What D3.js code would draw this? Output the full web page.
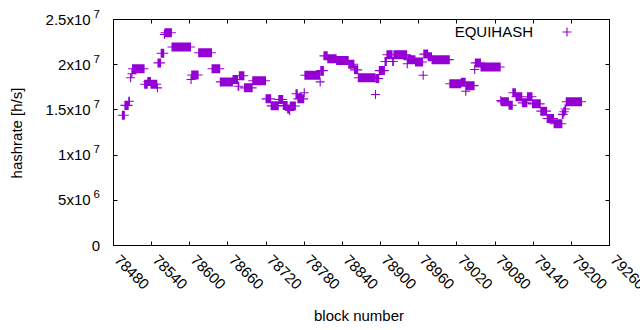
<!DOCTYPE html>
<html>
<head>
<meta charset="utf-8">
<script src="https://cdn.jsdelivr.net/npm/d3@7"></script>
<style>
  body { margin: 0; background: #fff; }
  text { font-family: "Liberation Sans", Arial, sans-serif; fill: #000; }
</style>
</head>
<body>
<svg id="chart" width="640" height="330"></svg>
<script>
// hashrate plateaus: first block, last block, value in 1e6 h/s
const runStart = [78494, 78498, 78504, 78507, 78509, 78510, 78529, 78534, 78539, 78549,
  78550, 78555, 78560, 78561, 78572, 78602, 78603, 78614, 78635, 78648,
  78668, 78676, 78678, 78686, 78699, 78720, 78728, 78740, 78747, 78754,
  78757, 78758, 78767, 78770, 78780, 78781, 78805, 78806, 78811, 78817,
  78831, 78850, 78859, 78865, 78892, 78893, 78898, 78907, 78910, 78919,
  78921, 78942, 78943, 78955, 78967, 78968, 78975, 78981, 79009, 79027,
  79034, 79035, 79048, 79049, 79058, 79089, 79090, 79102, 79108, 79113,
  79123, 79131, 79139, 79152, 79162, 79173, 79186, 79188, 79190, 79192];
const runEnd = [78497, 78503, 78505, 78507, 78509, 78528, 78533, 78538, 78548, 78549,
  78554, 78559, 78560, 78571, 78601, 78602, 78613, 78634, 78647, 78667,
  78675, 78677, 78685, 78698, 78719, 78727, 78739, 78746, 78753, 78756,
  78757, 78766, 78769, 78779, 78780, 78804, 78805, 78810, 78816, 78830,
  78849, 78858, 78864, 78891, 78892, 78897, 78906, 78909, 78918, 78920,
  78941, 78942, 78954, 78966, 78967, 78974, 78980, 79008, 79026, 79033,
  79034, 79047, 79048, 79057, 79088, 79089, 79101, 79107, 79112, 79122,
  79130, 79138, 79151, 79161, 79172, 79185, 79187, 79189, 79191, 79216];
const runValue = [14.4, 15.5, 15.95, 18.55, 19.0, 19.56, 17.84, 18.14, 17.84, 17.44,
  20.2, 21.27, 23.34, 23.53, 21.96, 18.36, 18.86, 21.32, 19.55, 18.1,
  18.36, 17.62, 18.77, 17.44, 18.23, 16.22, 15.45, 16.15, 15.49, 15.1,
  14.93, 15.43, 16.78, 16.22, 16.89, 18.84, 18.1, 19.35, 20.98, 20.65,
  20.46, 20.05, 19.43, 18.55, 16.7, 18.47, 19.35, 20.35, 21.1, 20.35,
  21.1, 20.1, 20.54, 20.3, 18.84, 21.17, 20.87, 20.56, 17.9, 18.05,
  17.07, 17.68, 19.47, 20.2, 19.75, 16.04, 15.9, 15.52, 16.89, 16.45,
  15.78, 16.45, 15.67, 14.86, 14.05, 13.46, 14.5, 14.8, 15.1, 15.9];

const xTicks = [78480, 78540, 78600, 78660, 78720, 78780, 78840, 78900,
  78960, 79020, 79080, 79140, 79200, 79260];
const yTicks = [0, 5e6, 1e7, 1.5e7, 2e7, 2.5e7];
const seriesName = "EQUIHASH";

// one point per block
const points = [];
runStart.forEach((s, i) => {
  for (let b = s; b <= runEnd[i]; b++) points.push({ block: b, rate: runValue[i] * 1e6 });
});

const plot = { left: 113.5, right: 609.5, top: 19.5, bottom: 245.5 };
const color = "#9400d3";
const svg = d3.select("#chart");

const x = d3.scaleLinear().domain([78480, 79260]).range([plot.left, plot.right]);
const y = d3.scaleLinear().domain([0, 2.5e7]).range([plot.bottom, plot.top]);

function plus(cx, cy, r) {
  return `M${cx - r},${cy}h${2 * r}M${cx},${cy - r}v${2 * r}`;
}

// points
svg.append("path")
  .attr("d", points.map(d => plus(x(d.block), y(d.rate), 4.5)).join(""))
  .attr("fill", "none")
  .attr("stroke", color)
  .attr("stroke-width", 1.1);

// border
svg.append("rect")
  .attr("x", plot.left).attr("y", plot.top)
  .attr("width", plot.right - plot.left).attr("height", plot.bottom - plot.top)
  .attr("fill", "none").attr("stroke", "#000").attr("stroke-width", 1);

// ticks (inward, mirrored)
const tl = 4;
const tickG = svg.append("g").attr("stroke", "#000").attr("stroke-width", 1);
xTicks.forEach(t => {
  const px = Math.round(x(t) - 0.5) + 0.5;
  tickG.append("line").attr("x1", px).attr("x2", px).attr("y1", plot.bottom).attr("y2", plot.bottom - tl);
  tickG.append("line").attr("x1", px).attr("x2", px).attr("y1", plot.top).attr("y2", plot.top + tl);
});
yTicks.forEach(t => {
  const py = Math.round(y(t) - 0.5) + 0.5;
  tickG.append("line").attr("x1", plot.left).attr("x2", plot.left + tl).attr("y1", py).attr("y2", py);
  tickG.append("line").attr("x1", plot.right).attr("x2", plot.right - tl).attr("y1", py).attr("y2", py);
});

// y tick labels, mantissa x10^exp
yTicks.forEach(t => {
  const txt = svg.append("text")
    .attr("x", 100).attr("y", y(t) + 5)
    .attr("text-anchor", "end")
    .attr("font-size", 15);
  if (t === 0) { txt.text("0"); return; }
  const e = Math.floor(Math.log10(t));
  const m = +(t / Math.pow(10, e)).toFixed(2);
  txt.append("tspan").text(m + "x10");
  txt.append("tspan").attr("dx", 3).attr("dy", -7).attr("font-size", 11.5).text(e);
});

// x tick labels, rotated
xTicks.forEach(t => {
  svg.append("text")
    .attr("transform", `translate(${x(t)},${261}) rotate(45)`)
    .attr("font-size", 15)
    .text(t);
});

// axis titles
svg.append("text")
  .attr("transform", `translate(22,133) rotate(-90)`)
  .attr("text-anchor", "middle")
  .attr("font-size", 15)
  .text("hashrate [h/s]");

svg.append("text")
  .attr("x", 359).attr("y", 321)
  .attr("text-anchor", "middle")
  .attr("font-size", 15)
  .text("block number");

// legend
svg.append("text")
  .attr("x", 533).attr("y", 37)
  .attr("text-anchor", "end")
  .attr("font-size", 15)
  .text(seriesName);
svg.append("path")
  .attr("d", plus(567, 32, 4.5))
  .attr("stroke", color).attr("stroke-width", 1.1).attr("fill", "none");
</script>
</body>
</html>
